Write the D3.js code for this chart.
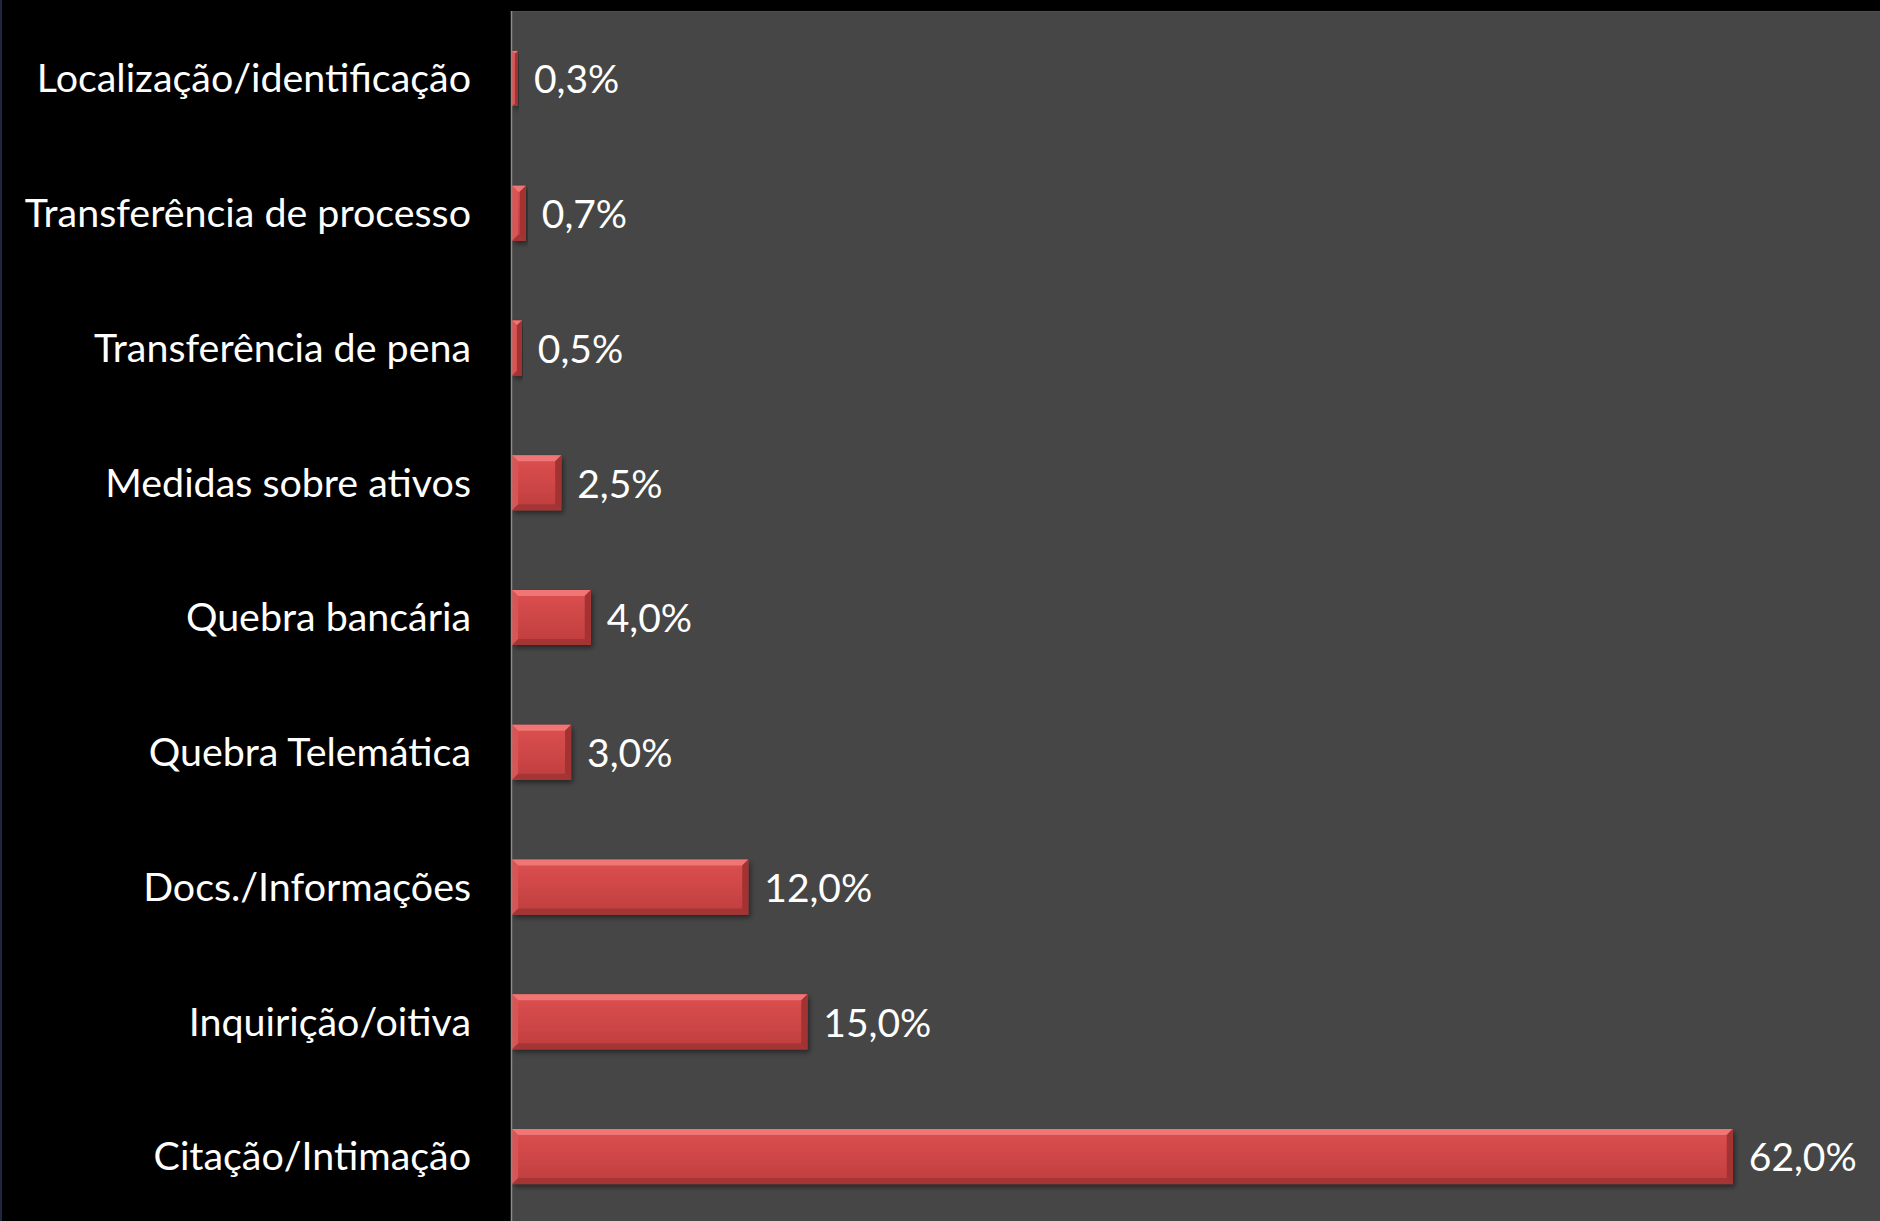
<!DOCTYPE html>
<html>
<head>
<meta charset="utf-8">
<script src="https://cdn.jsdelivr.net/npm/d3@7"></script>
<style>
  html, body { margin: 0; padding: 0; background: #000; }
  svg { display: block; }
  text { font-family: Lato, "Open Sans", sans-serif; fill: #ffffff; }
</style>
</head>
<body>
<svg id="chart" width="1880" height="1221"></svg>
<script>
// Categories listed from top to bottom
const categories = [
  "Localização/identificação",
  "Transferência de processo",
  "Transferência de pena",
  "Medidas sobre ativos",
  "Quebra bancária",
  "Quebra Telemática",
  "Docs./Informações",
  "Inquirição/oitiva",
  "Citação/Intimação"
];
// Share of requests, in percent
const values = [0.3, 0.7, 0.5, 2.5, 4.0, 3.0, 12.0, 15.0, 62.0];

const data = categories.map((c, i) => ({ category: c, value: values[i] }));

const W = 1880, H = 1221;
const plot = { left: 512, top: 11, right: W, bottom: 1224 };

const svg = d3.select("#chart");

// background + thin frame line on the far left
svg.append("rect").attr("width", W).attr("height", H).attr("fill", "#000");
svg.append("rect").attr("x", 0).attr("y", 0).attr("width", 2).attr("height", H).attr("fill", "#1d2740");

// plot area
svg.append("rect")
  .attr("x", plot.left).attr("y", plot.top)
  .attr("width", plot.right - plot.left).attr("height", H - plot.top)
  .attr("fill", "#464646");
svg.append("line")
  .attr("x1", plot.left).attr("x2", plot.right)
  .attr("y1", plot.top + 0.5).attr("y2", plot.top + 0.5)
  .attr("stroke", "#505050");

const x = d3.scaleLinear().domain([0, 70]).range([plot.left, plot.left + 70 * 19.69]);
const y = d3.scaleBand().domain(categories).range([plot.top, plot.bottom])
  .paddingInner(0.592).paddingOuter(0.296);

const defs = svg.append("defs");
const grad = defs.append("linearGradient").attr("id", "face")
  .attr("x1", 0).attr("y1", 0).attr("x2", 0).attr("y2", 1);
[["0%", "#dc5050"], ["45%", "#d04747"], ["100%", "#bf3f3f"]]
  .forEach(([o, c]) => grad.append("stop").attr("offset", o).attr("stop-color", c));

const shadow = defs.append("filter").attr("id", "shadow")
  .attr("x", "-5%").attr("y", "-20%").attr("width", "115%").attr("height", "160%");
shadow.append("feDropShadow").attr("dx", 2).attr("dy", 3).attr("stdDeviation", 2.5)
  .attr("flood-color", "#000").attr("flood-opacity", 0.45);

// beveled bars
const bars = svg.append("g").selectAll("g.bar").data(data).join("g")
  .attr("class", "bar")
  .attr("filter", "url(#shadow)");

bars.each(function (d) {
  const g = d3.select(this);
  const x0 = x(0), x1 = x(d.value);
  const y0 = y(d.category), y1 = y0 + y.bandwidth();
  const b = Math.min(6, (x1 - x0) / 2);
  const pts = a => a.map(p => p.join(",")).join(" ");
  g.append("rect").attr("x", x0).attr("y", y0).attr("width", x1 - x0).attr("height", y1 - y0)
    .attr("fill", "url(#face)");
  g.append("polygon").attr("points", pts([[x0, y0], [x1, y0], [x1 - b, y0 + b], [x0 + b, y0 + b]]))
    .attr("fill", "#f07575");
  g.append("polygon").attr("points", pts([[x0, y1], [x1, y1], [x1 - b, y1 - b], [x0 + b, y1 - b]]))
    .attr("fill", "#a53434");
  g.append("polygon").attr("points", pts([[x0, y0], [x0 + b, y0 + b], [x0 + b, y1 - b], [x0, y1]]))
    .attr("fill", "#d95555");
  g.append("polygon").attr("points", pts([[x1, y0], [x1 - b, y0 + b], [x1 - b, y1 - b], [x1, y1]]))
    .attr("fill", "#a33030");
});

// vertical category axis line
svg.append("line")
  .attr("x1", plot.left - 0.5).attr("x2", plot.left - 0.5)
  .attr("y1", plot.top).attr("y2", H)
  .attr("stroke", "#8c8c8c").attr("stroke-width", 1.5);

// category labels
svg.append("g").selectAll("text").data(data).join("text")
  .attr("x", 471)
  .attr("y", d => y(d.category) + y.bandwidth() / 2)
  .attr("dy", "0.35em")
  .attr("text-anchor", "end")
  .attr("font-size", 39.4)
  .text(d => d.category);

// value labels
const fmt = v => v.toFixed(1).replace(".", ",") + "%";
svg.append("g").selectAll("text").data(data).join("text")
  .attr("x", d => x(d.value) + 16)
  .attr("y", d => y(d.category) + y.bandwidth() / 2)
  .attr("dy", "0.38em")
  .attr("font-size", 39)
  .text(d => fmt(d.value));
</script>
</body>
</html>
